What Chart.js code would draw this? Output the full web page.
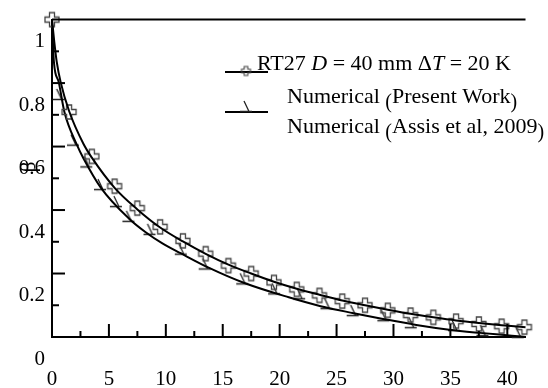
<!DOCTYPE html>
<html>
<head>
<meta charset="utf-8">
<script src="https://cdn.jsdelivr.net/npm/chart.js@4.4.0/dist/chart.umd.min.js"></script>
<style>
  html, body { margin: 0; padding: 0; background: #fff; }
  #wrap { width: 548px; height: 388px; }
</style>
</head>
<body>
<div id="wrap"><canvas id="chart" width="548" height="388"></canvas></div>
<script>
// RT27 curve: smooth path and its cross markers
const rtLineX = [0, 0.2, 0.42, 0.76, 1.5, 2.77, 3.5, 5.5, 7.5, 9.5, 11.5, 13.5, 15.5, 17.5, 19.5, 21.5, 23.5, 25.5, 27.5, 29.5, 31.5, 33.5, 35.5, 37.5, 39.5, 41.6];
const rtLineY = [1.0, 0.93, 0.866, 0.803, 0.712, 0.608, 0.565, 0.470, 0.402, 0.345, 0.301, 0.262, 0.228, 0.200, 0.174, 0.152, 0.133, 0.115, 0.100, 0.086, 0.073, 0.062, 0.052, 0.044, 0.037, 0.031];
const rtMarkX = [0, 1.5, 3.5, 5.5, 7.5, 9.5, 11.5, 13.5, 15.5, 17.5, 19.5, 21.5, 23.5, 25.5, 27.5, 29.5, 31.5, 33.5, 35.5, 37.5, 39.5, 41.5];
const rtMarkY = [1.0, 0.709, 0.569, 0.475, 0.406, 0.347, 0.303, 0.2625, 0.225, 0.200, 0.172, 0.150, 0.131, 0.113, 0.100, 0.084, 0.069, 0.062, 0.050, 0.041, 0.034, 0.031];

// Numerical curve: smooth path and its flag markers
const numLineX = [0, 0.17, 0.59, 1.09, 2.18, 2.77, 4.3, 6.8, 8.2, 9.7, 11.3, 13.9, 16.9, 20.8, 23.6, 26.5, 29.2, 32.0, 34.9, 37.6, 40.4, 41.6];
const numLineY = [1.0, 0.866, 0.803, 0.709, 0.606, 0.5625, 0.47, 0.372, 0.331, 0.295, 0.264, 0.216, 0.170, 0.125, 0.097, 0.075, 0.056, 0.038, 0.023, 0.013, 0.004, 0.0];
const numMarkX = [0.67, 1.93, 3.1, 4.3, 5.7, 6.8, 8.65, 11.4, 13.5, 16.8, 19.6, 21.8, 24.2, 26.5, 29.2, 31.6, 35.4, 37.9, 41.0];
const numMarkY = [0.75, 0.606, 0.5375, 0.466, 0.4125, 0.366, 0.325, 0.2625, 0.216, 0.169, 0.1375, 0.122, 0.091, 0.069, 0.053, 0.031, 0.022, 0.006, 0.0];

// Axis ranges and tick steps
const xRange = [0, 41.6];
const xStep = 2.5;
const xLabelEvery = 5;
const yRange = [0, 1];
const yStep = 0.1;
const yAxisTitle = 'β';

// Legend rows: segments with style flags (i = italic, p = lowered parenthesis)
const legendRows = [
  [{t: 'RT27 '}, {t: 'D', i: true}, {t: ' = 40 mm Δ'}, {t: 'T', i: true}, {t: ' = 20 K'}],
  [{t: 'Numerical '}, {t: '(', p: true}, {t: 'Present Work'}, {t: ')', p: true}],
  [{t: 'Numerical '}, {t: '(', p: true}, {t: 'Assis et al, 2009'}, {t: ')', p: true}]
];

const FONT = '"Liberation Serif", "Times New Roman", serif';
const pts = (xs, ys) => xs.map((x, k) => ({x: x, y: ys[k]}));

// Hollow plus-shaped marker
function crossImage(h, a, color, lw) {
  const s = Math.ceil(2 * h + 4);
  const c = document.createElement('canvas');
  c.width = s; c.height = s;
  const g = c.getContext('2d');
  g.translate(s / 2, s / 2);
  g.beginPath();
  g.moveTo(-a, -h); g.lineTo(a, -h); g.lineTo(a, -a); g.lineTo(h, -a);
  g.lineTo(h, a); g.lineTo(a, a); g.lineTo(a, h); g.lineTo(-a, h);
  g.lineTo(-a, a); g.lineTo(-h, a); g.lineTo(-h, -a); g.lineTo(-a, -a);
  g.closePath();
  g.strokeStyle = color; g.lineWidth = lw; g.stroke();
  return c;
}

// Flag marker: short bar with a slanted stroke falling onto it
function flagImage(color) {
  const s = 26;
  const c = document.createElement('canvas');
  c.width = s; c.height = s;
  const g = c.getContext('2d');
  g.translate(s / 2, s / 2);
  g.strokeStyle = color; g.lineWidth = 1.3;
  g.beginPath();
  g.moveTo(-7, 0.5); g.lineTo(5, 0.5);
  g.moveTo(-3, -10); g.lineTo(2, 0.5);
  g.stroke();
  return c;
}

const crossMark = crossImage(7, 2.5, '#444', 1.3);
const crossSmall = crossImage(4.5, 1.8, '#444', 1.1);
const flagMark = flagImage('#222');

// Inward tick marks, top frame line, rotated axis title and the legend
const decorations = {
  id: 'decorations',
  afterDraw(chart) {
    const ctx = chart.ctx;
    const xs = chart.scales.x, ys = chart.scales.y;
    const area = chart.chartArea;
    ctx.save();
    ctx.strokeStyle = '#000';
    ctx.lineWidth = 2;
    // frame line at the top of the plot
    ctx.beginPath();
    ctx.moveTo(area.left, area.top);
    ctx.lineTo(area.right, area.top);
    ctx.stroke();
    // y ticks pointing into the plot
    ys.ticks.forEach(t => {
      const n = Math.round(t.value / yStep);
      if (n <= 0 || n >= 10) return;
      const py = ys.getPixelForValue(t.value);
      const len = n % 2 === 0 ? 13 : 7;
      ctx.beginPath();
      ctx.moveTo(area.left, py);
      ctx.lineTo(area.left + len, py);
      ctx.stroke();
    });
    // x ticks pointing into the plot
    xs.ticks.forEach(t => {
      const n = Math.round(t.value / xStep);
      if (Math.abs(n * xStep - t.value) > 1e-6 || n <= 0) return;
      const px = xs.getPixelForValue(t.value);
      const len = n % 2 === 0 ? 13 : 6;
      ctx.beginPath();
      ctx.moveTo(px, area.bottom);
      ctx.lineTo(px, area.bottom - len);
      ctx.stroke();
    });
    // axis title
    ctx.fillStyle = '#000';
    ctx.font = '21px ' + FONT;
    ctx.textAlign = 'center';
    ctx.textBaseline = 'middle';
    ctx.save();
    ctx.translate(29, 167);
    ctx.rotate(-Math.PI / 2);
    ctx.fillText(yAxisTitle, 0, 0);
    ctx.restore();

    // legend symbols
    ctx.lineWidth = 2;
    ctx.beginPath();
    ctx.moveTo(225, 72); ctx.lineTo(268, 72);
    ctx.moveTo(225, 112); ctx.lineTo(268, 112);
    ctx.stroke();
    ctx.drawImage(crossSmall, 246 - crossSmall.width / 2, 71 - crossSmall.height / 2);
    ctx.drawImage(flagMark, 247 - flagMark.width / 2, 111 - flagMark.height / 2);

    // legend text
    const rowPos = [[257, 70], [287, 103], [287, 133]];
    ctx.textAlign = 'left';
    ctx.textBaseline = 'alphabetic';
    legendRows.forEach((row, r) => {
      let x = rowPos[r][0];
      const y = rowPos[r][1];
      row.forEach(seg => {
        if (seg.p) {
          ctx.font = '20px ' + FONT;
          ctx.fillText(seg.t, x, y + 5);
        } else {
          ctx.font = (seg.i ? 'italic ' : '') + '22px ' + FONT;
          ctx.fillText(seg.t, x, y);
        }
        x += ctx.measureText(seg.t).width;
      });
    });
    ctx.restore();
  }
};

new Chart(document.getElementById('chart'), {
  type: 'scatter',
  data: {
    datasets: [
      {
        label: 'RT27 D = 40 mm ΔT = 20 K',
        data: pts(rtLineX, rtLineY),
        showLine: true,
        borderColor: '#000',
        borderWidth: 2,
        pointRadius: 0,
        cubicInterpolationMode: 'monotone',
        clip: false
      },
      {
        label: 'RT27 markers',
        data: pts(rtMarkX, rtMarkY),
        showLine: false,
        pointStyle: crossMark,
        clip: false
      },
      {
        label: 'Numerical (Present Work)',
        data: pts(numLineX, numLineY),
        showLine: true,
        borderColor: '#000',
        borderWidth: 2,
        pointRadius: 0,
        cubicInterpolationMode: 'monotone',
        clip: false
      },
      {
        label: 'Numerical markers',
        data: pts(numMarkX, numMarkY),
        showLine: false,
        pointStyle: flagMark,
        clip: false
      }
    ]
  },
  options: {
    responsive: false,
    animation: false,
    devicePixelRatio: 1,
    layout: { padding: { top: 16, right: 0, left: 0, bottom: 0 } },
    plugins: { legend: { display: false }, tooltip: { enabled: false } },
    scales: {
      x: {
        type: 'linear',
        min: xRange[0],
        max: xRange[1],
        grid: { display: false, drawTicks: false },
        border: { display: true, color: '#000', width: 2 },
        ticks: {
          stepSize: xStep,
          autoSkip: false,
          maxRotation: 0,
          includeBounds: false,
          padding: 30,
          color: '#000',
          font: { family: FONT, size: 21 },
          callback: v => (Math.abs(v / xLabelEvery - Math.round(v / xLabelEvery)) < 1e-6 ? String(Math.round(v)) : '')
        },
        afterFit: s => { s.height = 51; }
      },
      y: {
        type: 'linear',
        min: yRange[0],
        max: yRange[1],
        grid: { display: false, drawTicks: false },
        border: { display: true, color: '#000', width: 2 },
        ticks: {
          stepSize: yStep,
          autoSkip: false,
          padding: 7,
          labelOffset: 22,
          color: '#000',
          font: { family: FONT, size: 21 },
          callback: v => {
            const n = Math.round(v / yStep);
            if (n % 2 !== 0) return '';
            return n === 0 ? '0' : n === 10 ? '1' : (n / 10).toFixed(1);
          }
        },
        afterFit: s => { s.width = 52; }
      }
    }
  },
  plugins: [decorations]
});
</script>
</body>
</html>
